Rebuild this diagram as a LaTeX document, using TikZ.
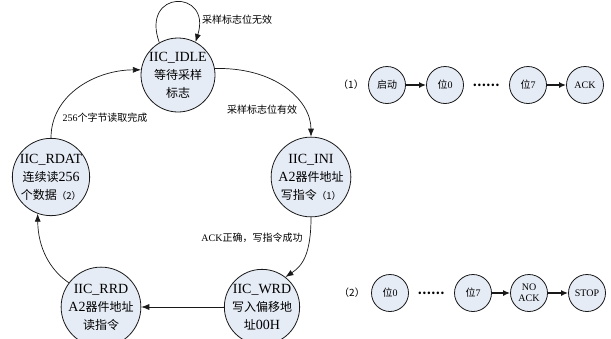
\documentclass[tikz,border=0pt]{standalone}
\usepackage{fontspec}
\setmainfont{Liberation Serif}
\newfontfamily\cjk{Noto Sans CJK SC}
\usetikzlibrary{arrows.meta}
\definecolor{statefill}{RGB}{230,236,246}
\definecolor{edgecol}{RGB}{25,25,25}
\newcommand{\zhb}[1]{{\cjk\fontsize{12}{18}\selectfont #1}}
\newcommand{\zhp}[1]{{\cjk\fontsize{9.5}{18}\selectfont #1}}
\tikzset{
  bigstate/.style={circle, draw=edgecol, fill=statefill, line width=0.8pt, minimum size=74pt, inner sep=0pt, align=center, font=\fontsize{14}{18}\selectfont},
  smallstate/.style={circle, draw=edgecol, fill=statefill, line width=0.8pt, minimum size=37pt, inner sep=0pt, align=center, font=\fontsize{10}{11}\selectfont},
  arr/.style={draw=edgecol, line width=0.7pt, -{Latex[length=8pt,width=6pt]}},
  chainarr/.style={draw=edgecol, line width=1.4pt, -{Latex[length=7pt,width=6pt]}},
  lbl/.style={font=\cjk\fontsize{10}{12}\selectfont, inner sep=0pt},
  dots/.style={font=\cjk\bfseries\fontsize{12}{12}\selectfont, inner sep=0pt}
}
\begin{document}
\begin{tikzpicture}[x=1pt,y=-1pt]
\fill[white] (0,0) rectangle (611,338);
\useasboundingbox (0,0) rectangle (611,338);

% big states
\node[bigstate] (idle) at (178,75) {IIC\_IDLE\\\zhb{等待采样}\\\zhb{标志}};
\node[bigstate] (ini)  at (311,177) {IIC\_INI\\A2\zhb{器件地址}\\\zhb{写指令}\zhp{（1）}};
\node[bigstate] (rdat) at (51,177) {IIC\_RDAT\\\zhb{连续读}256\\\zhb{个数据}\zhp{（2）}};
\node[bigstate] (rrd)  at (101,307) {IIC\_RRD\\A2\zhb{器件地址}\\\zhb{读指令}};
\node[bigstate] (wrd)  at (262,307) {IIC\_WRD\\\zhb{写入偏移地}\\\zhb{址}00H};

% transitions
\draw[arr] (idle.120) .. controls (140,-11) and (212,-11) .. (idle.62);
\draw[arr] (idle.10) .. controls (275,67) and (311,100) .. (ini.north);
\draw[arr] (ini.south) .. controls (311,255) and (302,266) .. (wrd.52);
\draw[arr] (wrd.west) -- (rrd.east);
\draw[arr] (rrd.143) .. controls (50,270) and (38,248) .. (rdat.250);
\draw[arr] (rdat.north) .. controls (51,95) and (95,70) .. (idle.172);

% transition labels
\node[lbl] (l1) at (237,20) {采样标志位无效};
\node[lbl] (l2) at (262,110) {采样标志位有效};
\node[lbl] (l3) at (252,238) {{\rmfamily ACK}正确，写指令成功};
\node[lbl] (l4) at (105,118) {{\rmfamily 256}个字节读取完成};

% chain (1)
\node[lbl] (n1) at (351,85) {（1）};
\node[smallstate] (s1) at (387,85) {{\cjk 启动}};
\node[smallstate] (a0) at (445,85) {{\cjk 位}0};
\node[dots] (d1) at (486,85) {……};
\node[smallstate] (a7) at (528,85) {{\cjk 位}7};
\node[smallstate] (ack) at (585,85) {ACK};
\draw[chainarr] (s1) -- (a0);
\draw[chainarr] (a7) -- (ack);

% chain (2)
\node[lbl] (n2) at (352,293) {（2）};
\node[smallstate] (b0) at (390,293) {{\cjk 位}0};
\node[dots] (d2) at (431,293) {……};
\node[smallstate] (b7) at (473,293) {{\cjk 位}7};
\node[smallstate] (nack) at (529,293) {NO\\ACK};
\node[smallstate] (stop) at (587,293) {STOP};
\draw[chainarr] (b7) -- (nack);
\draw[chainarr] (nack) -- (stop);
\end{tikzpicture}
\end{document}
